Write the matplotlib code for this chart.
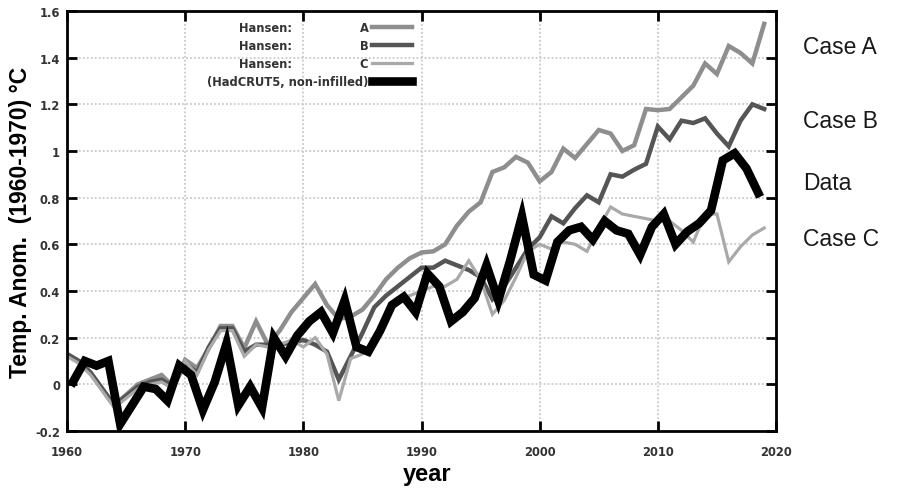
import numpy as np
import matplotlib
matplotlib.use("Agg")
import matplotlib.pyplot as plt

# Hansen (1988) scenarios, annual values, plotted at whole years
hansen_years = list(range(1960, 2020))
case_a = [0.13, 0.10, 0.05, -0.02, -0.09, -0.045, 0.00, 0.02, 0.04, -0.01,
          0.105, 0.07, 0.155, 0.25, 0.25, 0.155, 0.27, 0.17, 0.23, 0.31,
          0.37, 0.43, 0.34, 0.28, 0.29, 0.32, 0.38, 0.45, 0.50, 0.54,
          0.565, 0.57, 0.60, 0.68, 0.74, 0.78, 0.91, 0.93, 0.975, 0.95,
          0.87, 0.91, 1.01, 0.97, 1.03, 1.09, 1.075, 1.00, 1.025, 1.18,
          1.175, 1.18, 1.23, 1.28, 1.375, 1.33, 1.45, 1.42, 1.375, 1.545]
case_b = [0.13, 0.10, 0.05, -0.02, -0.09, -0.05, -0.01, 0.01, 0.02, -0.01,
          0.09, 0.05, 0.16, 0.24, 0.24, 0.14, 0.17, 0.17, 0.17, 0.18,
          0.19, 0.17, 0.14, 0.02, 0.12, 0.22, 0.33, 0.38, 0.42, 0.46,
          0.50, 0.50, 0.53, 0.51, 0.49, 0.46, 0.365, 0.42, 0.50, 0.58,
          0.63, 0.72, 0.69, 0.755, 0.81, 0.78, 0.90, 0.89, 0.92, 0.945,
          1.105, 1.05, 1.13, 1.12, 1.14, 1.075, 1.02, 1.13, 1.20, 1.18]
case_c = [0.12, 0.09, 0.04, -0.03, -0.10, -0.06, -0.02, 0.00, 0.01, -0.02,
          0.10, 0.04, 0.15, 0.23, 0.23, 0.12, 0.17, 0.16, 0.17, 0.19,
          0.16, 0.20, 0.13, -0.07, 0.11, 0.13, 0.18, 0.28, 0.37, 0.38,
          0.40, 0.42, 0.42, 0.45, 0.53, 0.45, 0.30, 0.36, 0.46, 0.57,
          0.60, 0.58, 0.61, 0.60, 0.57, 0.67, 0.76, 0.73, 0.72, 0.71,
          0.70, 0.70, 0.66, 0.61, 0.73, 0.73, 0.525, 0.59, 0.64, 0.67]

# HadCRUT5 (non-infilled), annual means, plotted at mid-year
data_years = list(range(1960, 2019))
hadcrut = [0.01, 0.10, 0.08, 0.10, -0.17, -0.09, -0.01, -0.02, -0.07, 0.08,
           0.04, -0.11, 0.01, 0.175, -0.09, -0.01, -0.10, 0.20, 0.12, 0.21,
           0.27, 0.31, 0.22, 0.36, 0.16, 0.14, 0.23, 0.34, 0.375, 0.31,
           0.475, 0.42, 0.27, 0.31, 0.37, 0.51, 0.36, 0.53, 0.72, 0.47,
           0.445, 0.61, 0.66, 0.675, 0.62, 0.70, 0.66, 0.645, 0.555, 0.675,
           0.73, 0.60, 0.655, 0.69, 0.745, 0.96, 0.99, 0.925, 0.82]

x_ticks = [1960, 1970, 1980, 1990, 2000, 2010, 2020]
y_ticks = [-0.2, 0, 0.2, 0.4, 0.6, 0.8, 1, 1.2, 1.4, 1.6]
y_tick_labels = ["-0.2", "0", "0.2", "0.4", "0.6", "0.8", "1", "1.2", "1.4", "1.6"]
legend_labels = ["Hansen:                 A", "Hansen:                 B",
                 "Hansen:                 C", "(HadCRUT5, non-infilled)"]
side_labels = ["Case A", "Case B", "Data", "Case C"]

fig = plt.figure(figsize=(9.07, 4.89), dpi=100)
ax = fig.add_axes([67 / 907, 57 / 489, 709 / 907, 420 / 489])

la, = ax.plot(hansen_years, case_a, color="#8e8e8e", lw=3.2, solid_joinstyle="miter")
lb, = ax.plot(hansen_years, case_b, color="#555555", lw=3.2, solid_joinstyle="miter")
lc, = ax.plot(hansen_years, case_c, color="#a9a9a9", lw=2.3, solid_joinstyle="miter")
ld, = ax.plot(np.array(data_years) + 0.5, hadcrut, color="black", lw=6.2,
              solid_joinstyle="miter")

ax.set_xlim(1960, 2020)
ax.set_ylim(-0.2, 1.6)
ax.set_xticks(x_ticks)
ax.set_yticks(y_ticks)
ax.set_yticklabels(y_tick_labels)
ax.grid(True, color="#c9c9c9", linestyle=(0, (1, 1.2)), linewidth=1.3)
ax.set_axisbelow(True)
ax.tick_params(direction="in", length=7, width=2, top=True, right=True,
               labelsize=8.3, labelcolor="#333333")
ax.tick_params(axis="x", pad=10)
ax.tick_params(axis="y", pad=5)
for lab in ax.get_xticklabels() + ax.get_yticklabels():
    lab.set_fontweight("bold")
for sp in ax.spines.values():
    sp.set_linewidth(2)

ax.set_ylabel("Temp. Anom.  (1960-1970) \u00b0C", fontsize=16.5, fontweight="bold",
              family="Liberation Sans")
ax.yaxis.set_label_coords(-0.05, 0.5)
fig.text(427 / 907, 1 - 481 / 489, "year", ha="center", va="baseline",
         fontsize=17, fontweight="bold", family="Liberation Sans")

leg = ax.legend([la, lb, lc, ld], legend_labels, loc="upper right",
                bbox_to_anchor=(418 / 907, 1 - 16 / 489),
                bbox_transform=fig.transFigure, frameon=False, markerfirst=False,
                prop={"size": 8.3, "weight": "bold"}, handlelength=3.5,
                handletextpad=0.3, borderpad=0, labelspacing=0.45)
for t in leg.get_texts():
    t.set_color("#333333")

for lab, yp in zip(side_labels, [48, 122, 183, 240]):
    fig.text(803 / 907, 1 - yp / 489, lab, ha="left", va="center",
             fontsize=16.5, family="Liberation Sans", color="#1a1a1a")

fig.savefig("out.png", dpi=100)
